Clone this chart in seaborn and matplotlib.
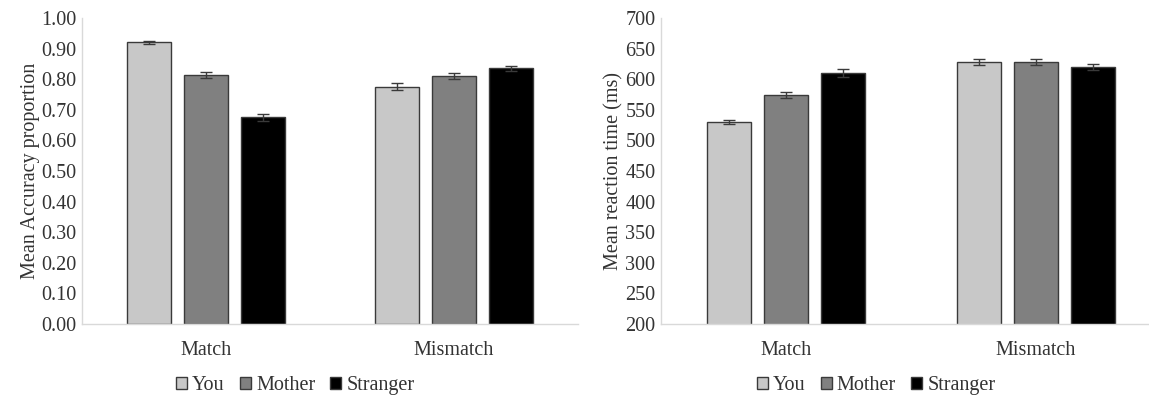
import matplotlib
matplotlib.use("Agg")
import matplotlib.pyplot as plt
import seaborn as sns
import pandas as pd
import numpy as np

conditions = ["Match", "Mismatch"]
targets = ["You", "Mother", "Stranger"]
acc_match = [0.920, 0.815, 0.675]
acc_mismatch = [0.776, 0.810, 0.835]
acc_err_match = [0.005, 0.010, 0.012]
acc_err_mismatch = [0.012, 0.010, 0.008]
rt_match = [530, 574, 610]
rt_mismatch = [628, 628, 620]
rt_err_match = [4, 5, 6]
rt_err_mismatch = [5, 5, 5]
acc_ticks = [0.0, 0.1, 0.2, 0.3, 0.4, 0.5, 0.6, 0.7, 0.8, 0.9, 1.0]
rt_ticks = [200, 250, 300, 350, 400, 450, 500, 550, 600, 650, 700]

colors = ["#c8c8c8", "#808080", "#000000"]

sns.set_style("white")
plt.rcParams['font.family'] = ['Liberation Serif', 'DejaVu Serif']
FS = 14.5

def make_df(m, mm, em, emm):
    rows = []
    for t, v, e in zip(targets, m, em):
        rows.append(dict(cond="Match", target=t, val=v, err=e))
    for t, v, e in zip(targets, mm, emm):
        rows.append(dict(cond="Mismatch", target=t, val=v, err=e))
    return pd.DataFrame(rows)

df_acc = make_df(acc_match, acc_mismatch, acc_err_match, acc_err_mismatch)
df_rt = make_df(rt_match, rt_mismatch, rt_err_match, rt_err_mismatch)

fig = plt.figure(figsize=(11.49, 3.95), dpi=100)
H = 395.0
W = 1149.0
ax1 = fig.add_axes([82 / W, (H - 324) / H, 496 / W, 306 / H])
ax2 = fig.add_axes([661 / W, (H - 324) / H, 500 / W, 306 / H])

def draw(ax, df, ylim, ticks, fmt, ylabel, legx):
    sns.barplot(data=df, x="cond", y="val", hue="target", hue_order=targets,
                order=conditions, palette=colors, errorbar=None, ax=ax,
                width=0.685, gap=0.22, edgecolor="#3a3a3a", linewidth=1.0,
                saturation=1)
    for cont, t in zip(ax.containers, targets):
        for bar, c in zip(cont, conditions):
            row = df[(df.cond == c) & (df.target == t)].iloc[0]
            x = bar.get_x() + bar.get_width() / 2
            ax.errorbar(x, row.val, yerr=row.err, fmt="none", ecolor="#3a3a3a",
                        elinewidth=1.0, capsize=4, capthick=1.0, zorder=5)
    ax.set_ylim(*ylim)
    ax.set_xlim(-0.5, 1.5)
    ax.set_yticks(ticks)
    ax.set_yticklabels([fmt(t) for t in ticks], fontsize=FS, color="#333333")
    ax.tick_params(axis="x", labelsize=FS, colors="#333333", length=0, pad=12)
    ax.tick_params(axis="y", length=0, pad=4)
    ax.set_xlabel("")
    ax.set_ylabel(ylabel, fontsize=FS, color="#333333", labelpad=1)
    for s in ["top", "right"]:
        ax.spines[s].set_visible(False)
    for s in ["left", "bottom"]:
        ax.spines[s].set_color("#d9d9d9")
        ax.spines[s].set_linewidth(1.0)
    ax.legend_.remove()
    handles = [plt.Rectangle((0, 0), 1, 1, facecolor=c, edgecolor="#3a3a3a", linewidth=1.0)
               for c in colors]
    ax.legend(handles, targets, loc="upper center", bbox_to_anchor=(legx, -0.11),
              ncol=3, frameon=False, fontsize=FS, handlelength=0.55,
              handleheight=0.55, handletextpad=0.25, columnspacing=0.75,
              labelcolor="#333333")

draw(ax1, df_acc, (0, 1.0), acc_ticks, lambda t: f"{t:.2f}", "Mean Accuracy proportion", 0.43)
draw(ax2, df_rt, (200, 700), rt_ticks, lambda t: f"{t:d}", "Mean reaction time (ms)", 0.43)

fig.savefig("out.png", dpi=100)
